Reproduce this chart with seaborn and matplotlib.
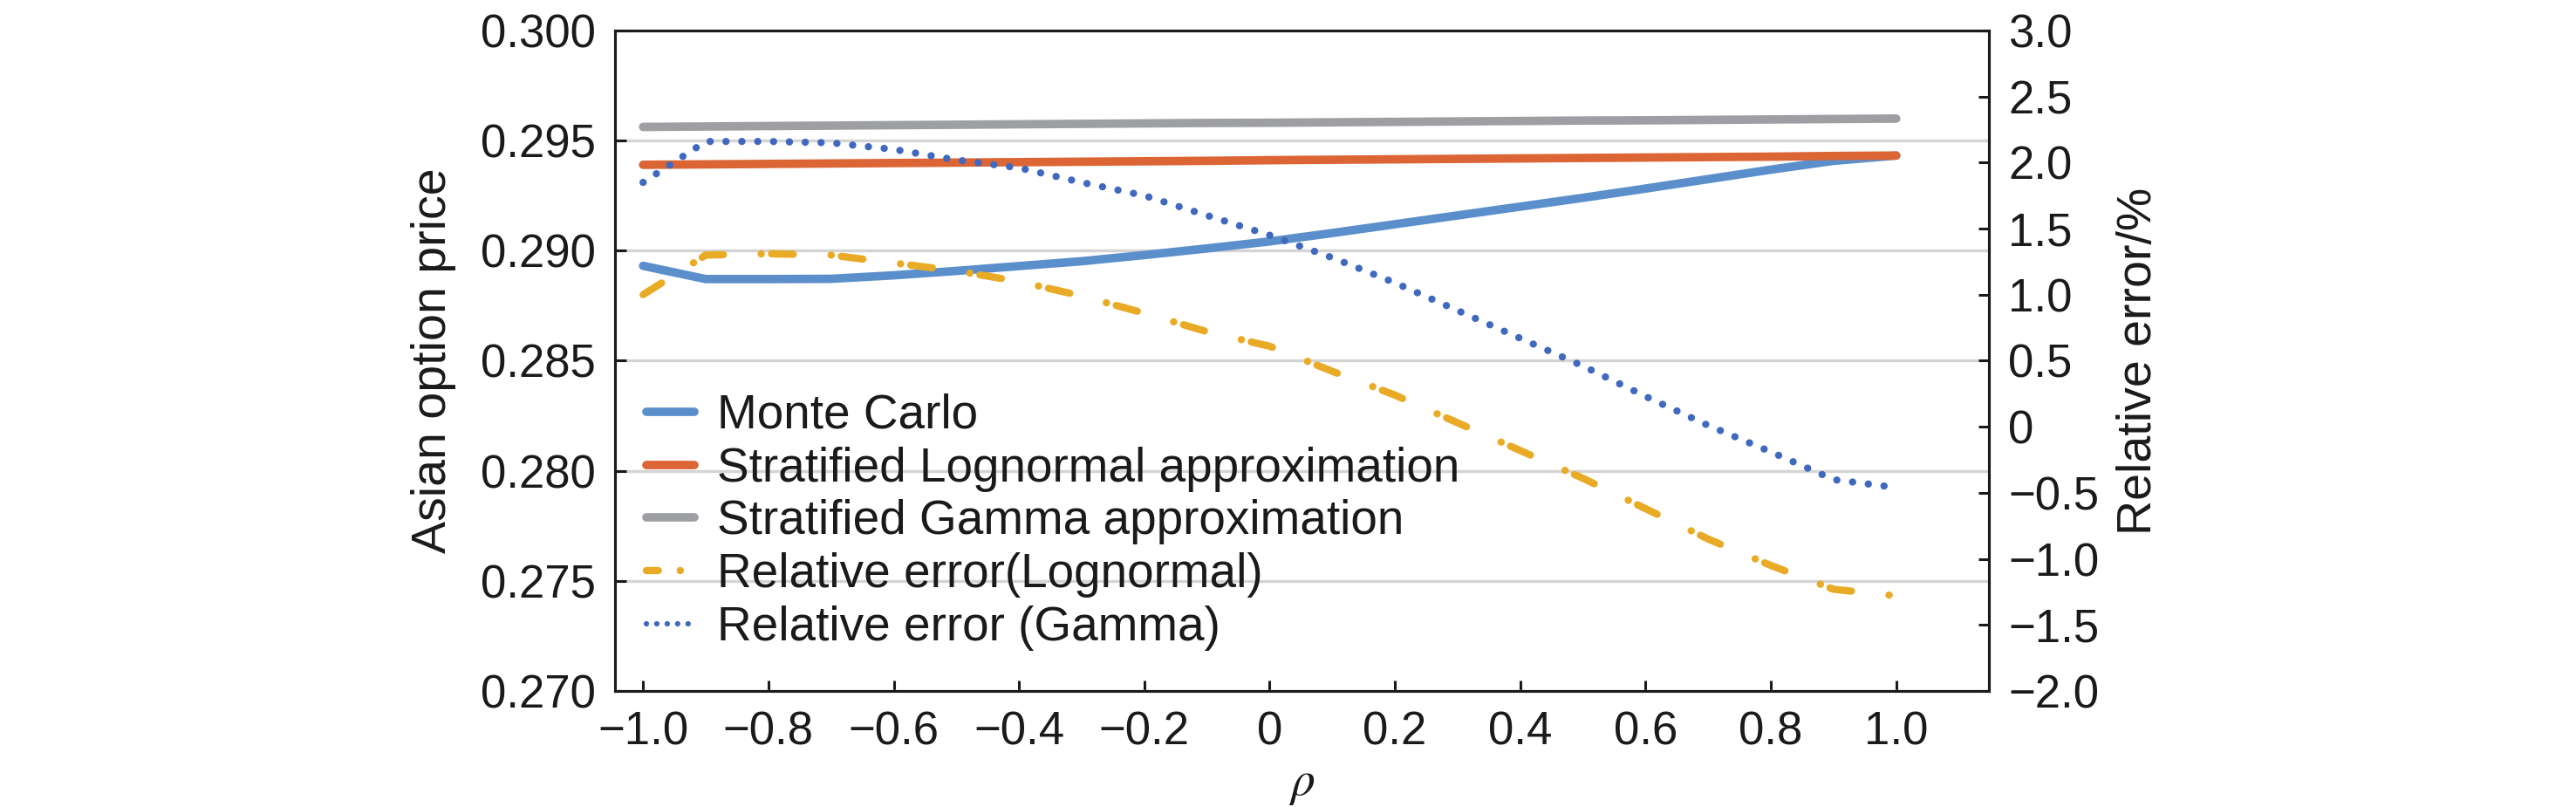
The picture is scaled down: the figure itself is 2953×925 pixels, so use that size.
import matplotlib
matplotlib.use("Agg")
import matplotlib.pyplot as plt
import seaborn as sns
import pandas as pd

# correlation grid
rho = [-1.0, -0.9, -0.8, -0.7, -0.6, -0.5, -0.4, -0.3, -0.2, -0.1, 0.0,
       0.1, 0.2, 0.3, 0.4, 0.5, 0.6, 0.7, 0.8, 0.9, 1.0]

# option prices (left axis)
monte_carlo = [0.28931, 0.28871, 0.28871, 0.28872, 0.28888, 0.28908, 0.28930,
               0.28952, 0.28980, 0.29010, 0.29042, 0.29080, 0.29120, 0.29160,
               0.29200, 0.29240, 0.29282, 0.29325, 0.29368, 0.29408, 0.29432]
strat_lognormal = [0.29390, 0.29392, 0.29394, 0.29396, 0.29398, 0.29400, 0.29402,
                   0.29404, 0.29406, 0.29408, 0.29411, 0.29413, 0.29415, 0.29417,
                   0.29419, 0.29421, 0.29423, 0.29425, 0.29427, 0.29430, 0.29432]
strat_gamma = [0.29562, 0.29564, 0.29566, 0.29568, 0.29570, 0.29572, 0.29574,
               0.29576, 0.29578, 0.29580, 0.29581, 0.29583, 0.29585, 0.29587,
               0.29589, 0.29591, 0.29592, 0.29594, 0.29596, 0.29598, 0.29600]

# relative errors in % (right axis)
err_lognormal = [1.00, 1.30, 1.31, 1.30, 1.24, 1.18, 1.10, 0.99, 0.86, 0.72, 0.61,
                 0.42, 0.24, 0.03, -0.18, -0.39, -0.62, -0.85, -1.05, -1.23, -1.28]
err_gamma = [1.85, 2.16, 2.16, 2.15, 2.10, 2.02, 1.96, 1.85, 1.75, 1.60, 1.45,
             1.28, 1.09, 0.88, 0.67, 0.46, 0.23, 0.01, -0.19, -0.40, -0.46]

labels = ["Monte Carlo", "Stratified Lognormal approximation",
          "Stratified Gamma approximation", "Relative error(Lognormal)",
          "Relative error (Gamma)"]

x_ticks = [-1.0, -0.8, -0.6, -0.4, -0.2, 0.0, 0.2, 0.4, 0.6, 0.8, 1.0]
x_ticklabels = ["\u22121.0", "\u22120.8", "\u22120.6", "\u22120.4", "\u22120.2", "0",
                "0.2", "0.4", "0.6", "0.8", "1.0"]
left_ticks = [0.270, 0.275, 0.280, 0.285, 0.290, 0.295, 0.300]
left_ticklabels = ["0.270", "0.275", "0.280", "0.285", "0.290", "0.295", "0.300"]
right_ticks = [-2.0, -1.5, -1.0, -0.5, 0.0, 0.5, 1.0, 1.5, 2.0, 2.5, 3.0]
right_ticklabels = ["\u22122.0", "\u22121.5", "\u22121.0", "\u22120.5", "0",
                    "0.5", "1.0", "1.5", "2.0", "2.5", "3.0"]

df = pd.DataFrame({
    "rho": rho,
    "mc": monte_carlo,
    "logn": strat_lognormal,
    "gam": strat_gamma,
    "err_logn": err_lognormal,
    "err_gam": err_gamma,
})

sns.set_theme(style="ticks")
plt.rcParams["font.family"] = ["Liberation Sans", "DejaVu Sans"]
plt.rcParams["mathtext.fontset"] = "stix"

FS = 38
INK = "#1a1a1a"

fig = plt.figure(figsize=(29.53, 9.25), dpi=100)
ax = fig.add_axes([0.2387, 0.1438, 0.5334, 0.8184])
ax2 = ax.twinx()

c_mc = "#5B8FCB"
c_logn = "#DC6535"
c_gam = "#9E9FA2"
c_err_logn = "#E9AA26"
c_err_gam = "#4068BE"

sns.lineplot(data=df, x="rho", y="mc", color=c_mc, linewidth=7, label=labels[0],
             legend=False, ax=ax, solid_capstyle="round")
sns.lineplot(data=df, x="rho", y="logn", color=c_logn, linewidth=7, label=labels[1],
             legend=False, ax=ax, solid_capstyle="round")
sns.lineplot(data=df, x="rho", y="gam", color=c_gam, linewidth=7, label=labels[2],
             legend=False, ax=ax, solid_capstyle="round")

sns.lineplot(data=df, x="rho", y="err_logn", color=c_err_logn, linewidth=6,
             linestyle=(0, (3.0, 5.2, 0.02, 1.4)), dash_capstyle="round",
             label=labels[3], legend=False, ax=ax2)
sns.lineplot(data=df, x="rho", y="err_gam", color=c_err_gam, linewidth=6,
             linestyle=(0, (0.01, 2.17)), dash_capstyle="round",
             label=labels[4], legend=False, ax=ax2)

ax.set_xlim(-1.045, 1.148)
ax.set_ylim(0.270, 0.300)
ax2.set_ylim(-2.0, 3.0)

ax.set_xticks(x_ticks, x_ticklabels)
ax.set_yticks(left_ticks, left_ticklabels)
ax2.set_yticks(right_ticks, right_ticklabels)

ax.yaxis.grid(True, color="#D4D4D4", linewidth=2.4)
ax.xaxis.grid(False)
ax.set_axisbelow(True)

for a in (ax, ax2):
    for s in a.spines.values():
        s.set_linewidth(2.2)
        s.set_color(INK)
    a.tick_params(direction="in", length=9, width=2.2, labelsize=FS, pad=16,
                  color=INK, labelcolor=INK)

ax.set_xlabel(r"$\rho$", fontsize=40, labelpad=6, color=INK)
ax.set_ylabel("Asian option price", fontsize=40, labelpad=20, color=INK)
ax2.set_ylabel("Relative error/%", fontsize=40, labelpad=14, color=INK)

h1, l1 = ax.get_legend_handles_labels()
h2, l2 = ax2.get_legend_handles_labels()
leg = ax2.legend(h1 + h2, l1 + l2, loc="center left", bbox_to_anchor=(0.023, 0.2556),
                 frameon=False, fontsize=39.5, borderaxespad=0, borderpad=0,
                 handlelength=1.0, handletextpad=0.47, labelspacing=0.16)
for t in leg.get_texts():
    t.set_color(INK)
# legend samples use a tighter pattern than the plotted lines
leg.legend_handles[3].set_linestyle((0, (1.65, 3.0, 0.02, 3.0)))
leg.legend_handles[4].set_linewidth(4.5)
leg.legend_handles[4].set_linestyle((0, (0.01, 1.9)))

fig.savefig("out.png", dpi=100)
plt.close(fig)
